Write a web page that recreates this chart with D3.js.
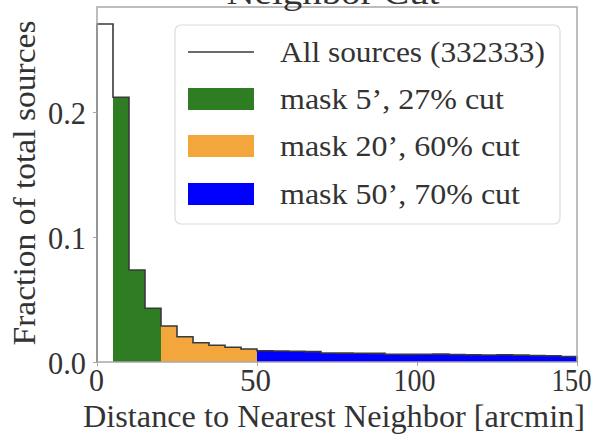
<!DOCTYPE html>
<html>
<head>
<meta charset="utf-8">
<script src="https://cdn.jsdelivr.net/npm/d3@7/dist/d3.min.js"></script>
<style>
  html, body { margin: 0; padding: 0; background: #fff; }
  svg { display: block; }
</style>
</head>
<body>
<svg id="chart" width="600" height="443"></svg>
<script>
// Histogram of distance to nearest neighbour, 5 arcmin bins from 0 to 150
const binWidth = 5;
const binStarts = d3.range(0, 150, 5);
const fractions = [
  0.2704, 0.2118, 0.0736, 0.0430,
  0.0288, 0.0202, 0.0154, 0.0134, 0.0118, 0.0104,
  0.0090, 0.0088, 0.0086, 0.0083, 0.0072, 0.0071, 0.0070, 0.0069, 0.0062, 0.0061,
  0.0062, 0.0063, 0.0060, 0.0058, 0.0056, 0.0058, 0.0055, 0.0052, 0.0050, 0.0044
];

// Masked ranges (arcmin) and their legend labels
const maskNames = ["mask 5’, 27% cut", "mask 20’, 60% cut", "mask 50’, 70% cut"];
const maskRanges = [[5, 20], [20, 50], [50, 150]];
const maskColors = ["#2f7d22", "#f2a63c", "#0000ff"];
const allLabel = "All sources (332333)";

const xTicks = [0, 50, 100, 150];
const yTicks = [0.0, 0.1, 0.2];

const SERIF = "'Liberation Serif', 'Times New Roman', Times, serif";

const svg = d3.select("#chart");
const x = d3.scaleLinear().domain([0, 150]).range([97, 577]);
const y = d3.scaleLinear().domain([0, 0.284]).range([362, 7]);

const bins = binStarts.map((s, i) => ({ x0: s, x1: s + binWidth, v: fractions[i] }));

// Filled regions for each mask
maskRanges.forEach((r, k) => {
  const sel = bins.filter(b => b.x0 >= r[0] && b.x1 <= r[1]);
  const pts = [[x(r[0]), y(0)]];
  sel.forEach(b => { pts.push([x(b.x0), y(b.v)]); pts.push([x(b.x1), y(b.v)]); });
  pts.push([x(r[1]), y(0)]);
  svg.append("path")
    .attr("d", d3.line()(pts) + "Z")
    .attr("fill", maskColors[k]);
});

// Step outline of all sources
const stepPts = [[x(0), y(0)]];
bins.forEach(b => { stepPts.push([x(b.x0), y(b.v)]); stepPts.push([x(b.x1), y(b.v)]); });
stepPts.push([x(150), y(0)]);
svg.append("path")
  .attr("d", d3.line()(stepPts))
  .attr("fill", "none")
  .attr("stroke", "#3a3a3a")
  .attr("stroke-width", 1.6);

// Frame
svg.append("rect")
  .attr("x", x(0)).attr("y", y(0.284))
  .attr("width", x(150) - x(0)).attr("height", y(0) - y(0.284))
  .attr("fill", "none").attr("stroke", "#a8a8a8").attr("stroke-width", 1.5);

// Axes
const xAxis = d3.axisBottom(x).tickValues(xTicks).tickFormat(d3.format("d")).tickSize(4).tickPadding(2);
const gx = svg.append("g").attr("transform", `translate(0,${y(0)})`).call(xAxis);
gx.attr("font-family", null);
gx.select(".domain").remove();
gx.selectAll("line").attr("stroke", "#a8a8a8");
gx.selectAll("text")
  .style("font-family", SERIF).style("font-size", "31px").attr("fill", "#333")
  .attr("dy", "0.71em").attr("y", 7)
  .attr("dx", (d, i) => [-1, -2, -3, -6][i])
  .attr("textLength", (d, i) => [15, 31, 42, 40][i]).attr("lengthAdjust", "spacingAndGlyphs");

const yAxis = d3.axisLeft(y).tickValues(yTicks).tickFormat(d3.format(".1f")).tickSize(4).tickPadding(7);
const gy = svg.append("g").attr("transform", `translate(${x(0)},0)`).call(yAxis);
gy.attr("font-family", null);
gy.select(".domain").remove();
gy.selectAll("line").attr("stroke", "#a8a8a8");
gy.selectAll("text")
  .style("font-family", SERIF).style("font-size", "31px").attr("fill", "#333").attr("dy", "0.36em")
  .attr("textLength", 38).attr("lengthAdjust", "spacingAndGlyphs");

// Axis titles
svg.append("text")
  .attr("x", 334).attr("y", 427)
  .attr("text-anchor", "middle")
  .style("font-family", SERIF).style("font-size", "31px").attr("fill", "#333")
  .attr("textLength", 502).attr("lengthAdjust", "spacingAndGlyphs")
  .text("Distance to Nearest Neighbor [arcmin]");

svg.append("text")
  .attr("transform", "translate(35,183) rotate(-90)")
  .attr("text-anchor", "middle")
  .style("font-family", SERIF).style("font-size", "31px").attr("fill", "#333")
  .attr("textLength", 325).attr("lengthAdjust", "spacingAndGlyphs")
  .text("Fraction of total sources");

// Title, set high so that only its lower edge shows
svg.append("text")
  .attr("x", 333).attr("y", 4)
  .attr("text-anchor", "middle")
  .style("font-family", SERIF).style("font-size", "34px").attr("fill", "#333")
  .attr("textLength", 213).attr("lengthAdjust", "spacingAndGlyphs")
  .text("Neighbor Cut");

// Legend
const lg = svg.append("g");
lg.append("rect")
  .attr("x", 175).attr("y", 25).attr("width", 385).attr("height", 199)
  .attr("rx", 6).attr("ry", 6)
  .attr("fill", "#fff").attr("fill-opacity", 0.9)
  .attr("stroke", "#dcdcdc").attr("stroke-width", 1.2);

const rowY = [52, 99, 146, 194];
lg.append("line")
  .attr("x1", 188).attr("x2", 254).attr("y1", rowY[0]).attr("y2", rowY[0])
  .attr("stroke", "#3a3a3a").attr("stroke-width", 1.6);
maskNames.forEach((n, k) => {
  lg.append("rect")
    .attr("x", 188).attr("y", rowY[k + 1] - 11).attr("width", 66).attr("height", 22)
    .attr("fill", maskColors[k]);
});
const labels = [allLabel].concat(maskNames);
const labelWidths = [265, 224, 240, 240];
labels.forEach((t, i) => {
  lg.append("text")
    .attr("x", 280).attr("y", rowY[i]).attr("dy", "0.34em")
    .style("font-family", SERIF).style("font-size", "29px").attr("fill", "#333")
    .attr("textLength", labelWidths[i]).attr("lengthAdjust", "spacingAndGlyphs")
    .text(t);
});
</script>
</body>
</html>
